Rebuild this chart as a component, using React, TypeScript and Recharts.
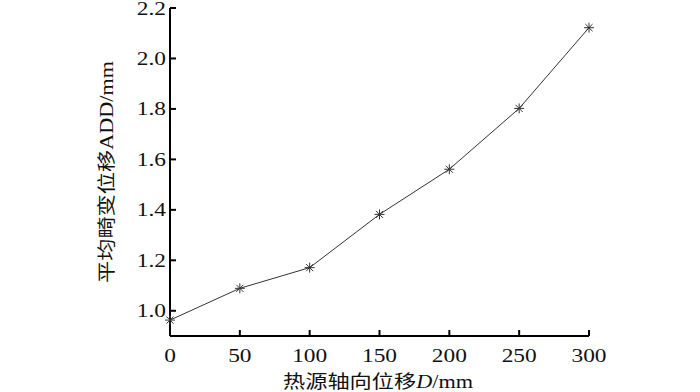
import React from 'react';
import { LineChart, Line, XAxis, YAxis } from 'recharts';

const displacement = [0, 50, 100, 150, 200, 250, 300];
const addValues = [0.963, 1.089, 1.171, 1.382, 1.561, 1.802, 2.122];
const xTicks = [0, 50, 100, 150, 200, 250, 300];
const yTicks = [1.0, 1.2, 1.4, 1.6, 1.8, 2.0, 2.2];
const xTitle = '热源轴向位移';
const yTitle = '平均畸变位移ADD/mm';

const data = displacement.map((d, i) => ({ d, v: addValues[i] }));

const SERIF = '"Liberation Serif", "Times New Roman", "Noto Sans CJK SC", serif';

const Star = (props: any) => {
  const { cx, cy } = props;
  if (cx == null || cy == null) return null;
  const r = 5;
  const d = r * Math.SQRT1_2;
  return (
    <g stroke="#333" strokeWidth={1}>
      <line x1={cx - r} y1={cy} x2={cx + r} y2={cy} />
      <line x1={cx} y1={cy - r} x2={cx} y2={cy + r} />
      <line x1={cx - d} y1={cy - d} x2={cx + d} y2={cy + d} />
      <line x1={cx - d} y1={cy + d} x2={cx + d} y2={cy - d} />
    </g>
  );
};

const XTick = (props: any) => {
  const { x, y, payload } = props;
  return (
    <text transform={`translate(${x},${y}) scale(1.3,1)`} textAnchor="middle" dy="0.71em"
      fontFamily={SERIF} fontSize={18} fill="#111" stroke="none">
      {payload.value}
    </text>
  );
};

const YTick = (props: any) => {
  const { x, y, payload } = props;
  return (
    <text transform={`translate(${x},${y}) scale(1.3,1)`} textAnchor="end" dy="0.35em"
      fontFamily={SERIF} fontSize={18} fill="#111" stroke="none">
      {Number(payload.value).toFixed(1)}
    </text>
  );
};

const axisStyle = { stroke: '#000', strokeWidth: 2 };

export default function App() {
  return (
    <div style={{ position: 'absolute', left: 0, top: 0, background: '#fff' }}>
      <LineChart width={700} height={392} data={data}
        margin={{ top: 8, right: 111, bottom: 26, left: 110 }}>
        <XAxis dataKey="d" type="number" domain={[0, 300]} ticks={xTicks}
          stroke="#000" strokeWidth={2}
          axisLine={axisStyle} tickLine={axisStyle}
          tickSize={-6} tickMargin={19} height={30} tick={<XTick />}
          label={{
            content: () => (
              <text x={378} y={388} textAnchor="middle" fontFamily={SERIF} fontSize={18} fill="#111"
                stroke="none" textLength={190} lengthAdjust="spacingAndGlyphs">
                {xTitle}<tspan fontStyle="italic">D</tspan>/mm
              </text>
            ),
          }} />
        <XAxis xAxisId="top" orientation="top" dataKey="d" type="number" domain={[0, 300]}
          stroke="#000" strokeWidth={2}
          height={0} tick={false} tickLine={false} axisLine={axisStyle} />
        <YAxis type="number" domain={[0.9, 2.2]} ticks={yTicks}
          stroke="#000" strokeWidth={2}
          axisLine={axisStyle} tickLine={axisStyle}
          tickSize={-6} tickMargin={10} width={60} tick={<YTick />}
          label={{
            content: () => (
              <text transform="translate(113,172) rotate(-90)" textAnchor="middle" fontFamily={SERIF}
                fontSize={18} fill="#111" stroke="none" textLength={222} lengthAdjust="spacingAndGlyphs">
                {yTitle}
              </text>
            ),
          }} />
        <YAxis yAxisId="right" orientation="right" type="number" domain={[0.9, 2.2]}
          stroke="#000" strokeWidth={2}
          width={0} tick={false} tickLine={false} axisLine={axisStyle} />
        <Line dataKey="v" type="linear" stroke="#333" strokeWidth={1} dot={<Star />}
          activeDot={false} isAnimationActive={false} />
      </LineChart>
    </div>
  );
}
